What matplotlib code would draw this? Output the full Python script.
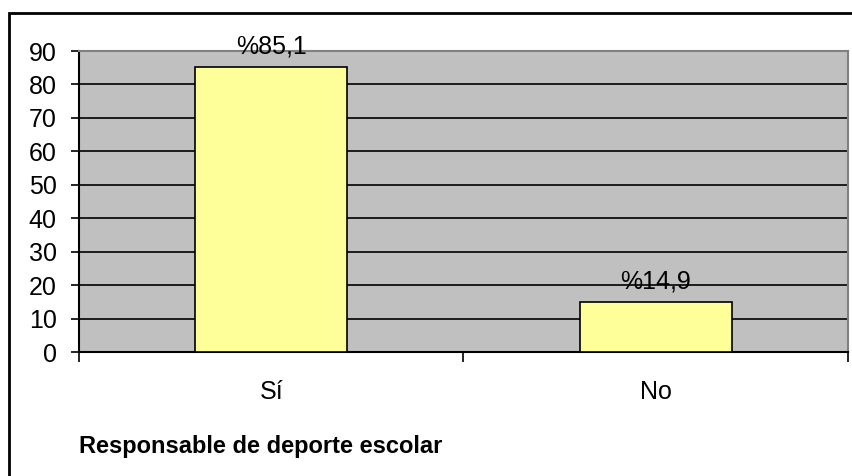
import matplotlib
matplotlib.use("Agg")
import matplotlib.pyplot as plt
from matplotlib.patches import Rectangle

categories = ["Sí", "No"]
values = [85.1, 14.9]
labels = ["%85,1", "%14,9"]
yticks = [0, 10, 20, 30, 40, 50, 60, 70, 80, 90]
title = "Responsable de deporte escolar"

plt.rcParams['font.family'] = ['Liberation Sans', 'DejaVu Sans']

fig = plt.figure(figsize=(8.53, 4.76), dpi=100)
fig.patch.set_facecolor("white")
ax = fig.add_axes([79/853, 1-352/476, (848-79)/853, (352-51)/476])
ax.set_facecolor("#c0c0c0")

x = list(range(len(categories)))
ax.bar(x, values, width=0.395, color="#ffff99", edgecolor="black", linewidth=1.2, zorder=3)
for xi, v, lab in zip(x, values, labels):
    ax.annotate(lab, (xi, v), xytext=(0, 10), textcoords="offset points",
                ha="center", va="baseline", fontsize=18, zorder=4)

ax.set_xlim(-0.5, 1.5)
ax.set_ylim(0, 90)
ax.set_yticks(yticks)
ax.tick_params(axis="y", direction="out", length=6, width=1.2, labelsize=18, pad=10)
ax.yaxis.grid(True, color="black", linewidth=1.2, zorder=1)
ax.set_axisbelow(True)

ax.set_xticks([-0.5, 0.5, 1.5])
ax.set_xticklabels([])
ax.tick_params(axis="x", which="major", direction="out", length=7, width=1.2)
ax.set_xticks(x, minor=True)
ax.set_xticklabels(categories, minor=True)
ax.tick_params(axis="x", which="minor", length=0, labelsize=18, pad=20)

for s in ["left", "bottom"]:
    ax.spines[s].set_color("black")
    ax.spines[s].set_linewidth(1.5)
for s in ["top", "right"]:
    ax.spines[s].set_color("#808080")
    ax.spines[s].set_linewidth(1.5)

fig.text(79/853, 1-453/476, title, fontsize=17, fontweight="bold", ha="left", va="baseline")

fig.patches.append(Rectangle((9/853, -0.1), 1.2, 1-13/476+0.1, transform=fig.transFigure,
                             fill=False, edgecolor="black", linewidth=2, zorder=10))

fig.savefig("out.png", dpi=100)
